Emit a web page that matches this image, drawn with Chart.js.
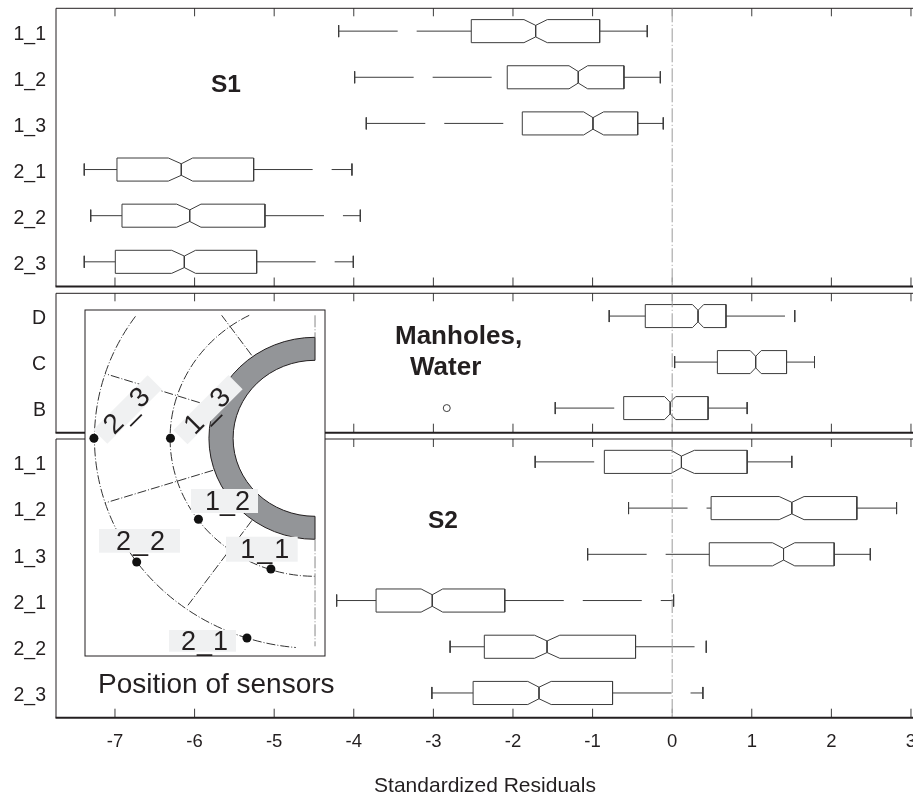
<!DOCTYPE html>
<html>
<head>
<meta charset="utf-8">
<title>Standardized Residuals</title>
<script src="https://cdn.jsdelivr.net/npm/chart.js@4/dist/chart.umd.min.js"></script>
<style>
    html, body { margin: 0; padding: 0; background: #fff; overflow: hidden; }
    #page { position: relative; width: 913px; height: 795px; overflow: hidden; background: #fff; }
    #page canvas { position: absolute; }
</style>
</head>
<body>
<div id="page">
    <canvas id="panelS1" width="930" height="288" style="left:0;top:0"></canvas>
    <canvas id="panelWater" width="930" height="145" style="left:0;top:290px"></canvas>
    <canvas id="panelS2" width="930" height="363" style="left:0;top:436px"></canvas>
    <canvas id="inset" width="262" height="392" style="left:84px;top:309px"></canvas>
</div>
<script>
// x axis
const xTicks = [-7, -6, -5, -4, -3, -2, -1, 0, 1, 2, 3];
const axisTitle = "Standardized Residuals";

// S1 panel
const s1Labels = ["1_1", "1_2", "1_3", "2_1", "2_2", "2_3"];
const s1Low = [-4.19, -3.989, -3.843, -7.386, -7.305, -7.386];
const s1Q1 = [-2.524, -2.072, -1.883, -6.975, -6.912, -6.996];
const s1NotchLow = [-1.862, -1.296, -1.112, -6.33, -6.225, -6.288];
const s1Median = [-1.715, -1.18, -0.995, -6.167, -6.061, -6.129];
const s1NotchHigh = [-1.569, -1.062, -0.861, -6.024, -5.92, -5.987];
const s1Q3 = [-0.911, -0.606, -0.433, -5.258, -5.116, -5.22];
const s1High = [-0.313, -0.149, -0.112, -4.023, -3.918, -4.006];

// Manholes, Water panel
const waterLabels = ["D", "C", "B"];
const waterLow = [-0.791, 0.031, -1.469];
const waterQ1 = [-0.338, 0.568, -0.609];
const waterNotchLow = [0.255, 0.98, -0.095];
const waterMedian = [0.325, 1.049, -0.025];
const waterNotchHigh = [0.396, 1.119, 0.045];
const waterQ3 = [0.676, 1.437, 0.451];
const waterHigh = [1.54, 1.788, 0.942];
const waterOutlierX = [-2.832];
const waterOutlierRow = [3];

// S2 panel
const s2Labels = ["1_1", "1_2", "1_3", "2_1", "2_2", "2_3"];
const s2Low = [-1.721, -0.548, -1.062, -4.215, -2.79, -3.019];
const s2Q1 = [-0.852, 0.489, 0.466, -3.72, -2.36, -2.501];
const s2NotchLow = [-0.015, 1.344, 1.26, -3.154, -1.73, -1.814];
const s2Median = [0.116, 1.503, 1.399, -3.014, -1.572, -1.673];
const s2NotchHigh = [0.279, 1.657, 1.54, -2.883, -1.412, -1.52];
const s2Q3 = [0.942, 2.32, 2.035, -2.103, -0.46, -0.749];
const s2High = [1.503, 2.819, 2.489, 0.018, 0.428, 0.386];

// sensor sketch, same units on both inset axes
const sensorNames = ["1_1", "1_2", "1_3", "2_1", "2_2", "2_3"];
const sensorX = [-42, -111, -137.6, -64.8, -169.8, -210.5];
const sensorY = [-130.7, -81, 0, -199.7, -123.7, 0];
const ringRadii = [78, 101];
const spokeStartX = [-60.3, -97, -97, -60];
const spokeStartY = [83, 31.5, -32, -82];
const spokeEndX = [-88.9, -200, -200, -121];
const spokeEndY = [123, 64.7, -64.7, -167];

const ink = "#231f20";
const lineColor = "#3c3c3c";
const zeroColor = "#9a9a9a";
const whiskerDash = [59, 19];
const zeroDash = [14, 2.5, 1, 2.5];
const fontName = "'Liberation Sans', Arial, sans-serif";

Chart.defaults.font.family = fontName;
Chart.defaults.color = ink;

function lineSet(points, color, dash) {
    return {
        data: points,
        showLine: true,
        borderColor: color || lineColor,
        borderWidth: 1,
        borderDash: dash || [],
        pointRadius: 0,
        tension: 0
    };
}

function boxDatasets(s) {
    const capH = 0.13, boxH = 0.25, waist = 0.125;
    const sets = [];
    s.labels.forEach(function (name, i) {
        const y = i + 1;
        sets.push(lineSet([{ x: s.low[i], y: y }, { x: s.q1[i], y: y }], lineColor, whiskerDash));
        sets.push(lineSet([{ x: s.q3[i], y: y }, { x: s.high[i], y: y }], lineColor, whiskerDash));
        sets.push(lineSet([{ x: s.low[i], y: y - capH }, { x: s.low[i], y: y + capH }]));
        sets.push(lineSet([{ x: s.high[i], y: y - capH }, { x: s.high[i], y: y + capH }]));
        sets.push(lineSet([
            { x: s.q1[i], y: y - boxH }, { x: s.notchLow[i], y: y - boxH },
            { x: s.median[i], y: y - waist }, { x: s.notchHigh[i], y: y - boxH },
            { x: s.q3[i], y: y - boxH }, { x: s.q3[i], y: y + boxH },
            { x: s.notchHigh[i], y: y + boxH }, { x: s.median[i], y: y + waist },
            { x: s.notchLow[i], y: y + boxH }, { x: s.q1[i], y: y + boxH },
            { x: s.q1[i], y: y - boxH }
        ]));
        sets.push(lineSet([{ x: s.median[i], y: y - waist }, { x: s.median[i], y: y + waist }]));
    });
    return sets;
}

// frame and inward ticks, the panels have ticks on top and bottom
const panelFrame = {
    id: "panelFrame",
    beforeDatasetsDraw(chart) {
        const a = chart.chartArea, ctx = chart.ctx, x = chart.scales.x;
        ctx.save();
        ctx.strokeStyle = ink;
        ctx.lineWidth = 1;
        xTicks.forEach(function (t) {
            const px = x.getPixelForValue(t);
            ctx.strokeStyle = t === 0 ? zeroColor : lineColor;
            ctx.beginPath();
            ctx.moveTo(px, a.top);
            ctx.lineTo(px, a.top + 8);
            ctx.moveTo(px, a.bottom);
            ctx.lineTo(px, a.bottom - 9);
            ctx.stroke();
        });
        ctx.strokeStyle = ink;
        ctx.beginPath();
        ctx.moveTo(a.left, a.bottom);
        ctx.lineTo(a.left, a.top);
        ctx.lineTo(a.right, a.top);
        ctx.stroke();
        ctx.lineWidth = 2;
        ctx.beginPath();
        ctx.moveTo(a.left - 0.5, a.bottom);
        ctx.lineTo(a.right, a.bottom);
        ctx.stroke();
        ctx.restore();
    },
    afterDraw(chart, args, opts) {
        const ctx = chart.ctx;
        ctx.save();
        ctx.fillStyle = ink;
        ctx.textBaseline = "middle";
        (opts.notes || []).forEach(function (n) {
            ctx.font = "bold " + n.size + "px " + fontName;
            ctx.fillText(n.text, n.left, n.top);
        });
        ctx.restore();
    }
};

function makePanel(id, s, notes, bottomPad, showAxis) {
    const n = s.labels.length;
    const sets = [lineSet([{ x: 0, y: 0.505 }, { x: 0, y: n + 0.535 }], zeroColor, zeroDash)]
        .concat(boxDatasets(s));
    if (s.outlierX) {
        sets.push({
            data: s.outlierX.map(function (v, i) { return { x: v, y: s.outlierRow[i] }; }),
            showLine: false,
            pointRadius: 3.5,
            pointBackgroundColor: "#fff",
            pointBorderColor: lineColor,
            pointBorderWidth: 1
        });
    }
    return new Chart(document.getElementById(id), {
        type: "scatter",
        data: { datasets: sets },
        plugins: [panelFrame],
        options: {
            responsive: false,
            animation: false,
            events: [],
            layout: { autoPadding: false, padding: { top: s.top, right: 16, bottom: bottomPad, left: 0 } },
            plugins: {
                legend: { display: false },
                tooltip: { enabled: false },
                panelFrame: { notes: notes }
            },
            scales: {
                x: {
                    type: "linear",
                    min: -7.741,
                    max: 3.038,
                    grid: { display: false, drawTicks: false },
                    border: { display: false },
                    afterBuildTicks: function (scale) {
                        scale.ticks = xTicks.map(function (v) { return { value: v }; });
                    },
                    afterFit: function (scale) {
                        scale.height = showAxis ? 81.3 : 0;
                        scale.paddingLeft = 0;
                        scale.paddingRight = 0;
                    },
                    ticks: {
                        display: showAxis,
                        autoSkip: false,
                        maxRotation: 0,
                        padding: 13,
                        color: ink,
                        font: { size: 18.5 }
                    },
                    title: {
                        display: showAxis,
                        text: axisTitle,
                        color: ink,
                        font: { size: 21 },
                        padding: 0
                    }
                },
                y: {
                    type: "linear",
                    reverse: true,
                    min: 0.505,
                    max: n + 0.535,
                    grid: { display: false, drawTicks: false },
                    border: { display: false },
                    afterBuildTicks: function (scale) {
                        scale.ticks = s.labels.map(function (l, i) { return { value: i + 1 }; });
                    },
                    afterFit: function (scale) {
                        scale.width = 56;
                        scale.paddingTop = 0;
                        scale.paddingBottom = 0;
                    },
                    ticks: {
                        padding: 10,
                        labelOffset: 3,
                        color: ink,
                        font: { size: 19.5 },
                        callback: function (v) { return s.labels[v - 1]; }
                    }
                }
            }
        }
    });
}

makePanel("panelS1", {
    labels: s1Labels, low: s1Low, q1: s1Q1, notchLow: s1NotchLow, median: s1Median,
    notchHigh: s1NotchHigh, q3: s1Q3, high: s1High, top: 8.3
}, [{ text: "S1", left: 211, top: 85, size: 24.5 }], 1.5, false);

makePanel("panelWater", {
    labels: waterLabels, low: waterLow, q1: waterQ1, notchLow: waterNotchLow, median: waterMedian,
    notchHigh: waterNotchHigh, q3: waterQ3, high: waterHigh,
    outlierX: waterOutlierX, outlierRow: waterOutlierRow, top: 3.3
}, [{ text: "Manholes,", left: 395, top: 47, size: 26 }, { text: "Water", left: 410, top: 78, size: 26 }], 2.3, false);

makePanel("panelS2", {
    labels: s2Labels, low: s2Low, q1: s2Q1, notchLow: s2NotchLow, median: s2Median,
    notchHigh: s2NotchHigh, q3: s2Q3, high: s2High, top: 3
}, [{ text: "S2", left: 428, top: 85, size: 24.5 }], 0, true);

// sketch inside the white box: pipe section, sensor rings, spokes, labels
const sketchLayer = {
    id: "sketchLayer",
    beforeDatasetsDraw(chart) {
        const ctx = chart.ctx, a = chart.chartArea, sx = chart.scales.x, sy = chart.scales.y;
        const cx = sx.getPixelForValue(0), cy = sy.getPixelForValue(0);
        const rx = function (r) { return sx.getPixelForValue(r) - cx; };
        const ry = function (r) { return sy.getPixelForValue(0) - sy.getPixelForValue(r); };
        const deg = Math.PI / 180;
        const dashDot = [9, 2, 1, 2];

        ctx.save();
        ctx.fillStyle = "#fff";
        ctx.strokeStyle = ink;
        ctx.lineWidth = 1;
        ctx.fillRect(a.left, a.top, a.width, a.height);
        ctx.strokeRect(a.left, a.top, a.width, a.height);

        // pipe wall
        ctx.beginPath();
        ctx.ellipse(cx, cy, rx(ringRadii[1]), ry(ringRadii[1]), 0, Math.PI / 2, 3 * Math.PI / 2);
        ctx.ellipse(cx, cy, rx(ringRadii[0]), ry(ringRadii[0]), 0, 3 * Math.PI / 2, Math.PI / 2, true);
        ctx.closePath();
        ctx.fillStyle = "#939598";
        ctx.fill();
        ctx.stroke();

        // sensor rings
        ctx.strokeStyle = "#333";
        ctx.setLineDash(dashDot);
        ctx.beginPath();
        ctx.ellipse(cx, cy, rx(138), ry(138), 0, -117 * deg, -270 * deg, true);
        ctx.stroke();
        ctx.beginPath();
        ctx.ellipse(cx, cy, rx(210), ry(210), 0, -144.5 * deg, -265 * deg, true);
        ctx.stroke();

        // spokes
        spokeStartX.forEach(function (v, i) {
            ctx.beginPath();
            ctx.moveTo(sx.getPixelForValue(v), sy.getPixelForValue(spokeStartY[i]));
            ctx.lineTo(sx.getPixelForValue(spokeEndX[i]), sy.getPixelForValue(spokeEndY[i]));
            ctx.stroke();
        });

        // centre line
        ctx.strokeStyle = "#888";
        ctx.setLineDash([12, 2, 1, 2]);
        ctx.beginPath();
        ctx.moveTo(cx, sy.getPixelForValue(123));
        ctx.lineTo(cx, sy.getPixelForValue(ringRadii[1]));
        ctx.moveTo(cx, sy.getPixelForValue(-ringRadii[1]));
        ctx.lineTo(cx, sy.getPixelForValue(-208));
        ctx.stroke();
        ctx.setLineDash([]);

        // sensor name plates, box coordinates relative to this canvas
        const plates = [
            { i: 0, left: 142, top: 227.7, w: 71.7, h: 25, dx: 4, size: 27, spacing: "2px" },
            { i: 1, left: 107, top: 180, w: 67, h: 24, dx: 3, size: 27, spacing: "0px" },
            { i: 2, cx: 124, cy: 100.7, w: 78, h: 20, rot: -45, dx: 0, size: 28, spacing: "3px" },
            { i: 3, left: 85, top: 321, w: 67, h: 21.7, dx: 2.5, size: 27, spacing: "1px" },
            { i: 4, left: 15, top: 220, w: 81, h: 23.7, dx: 2, size: 27, spacing: "2px" },
            { i: 5, cx: 43.5, cy: 100.5, w: 77, h: 20, rot: -45, dx: 0, size: 28, spacing: "3px" }
        ];
        ctx.textAlign = "center";
        ctx.textBaseline = "alphabetic";
        plates.forEach(function (p) {
            const mx = p.rot ? p.cx : p.left + p.w / 2;
            const my = p.rot ? p.cy : p.top + p.h / 2;
            ctx.save();
            ctx.translate(mx, my);
            if (p.rot) ctx.rotate(p.rot * deg);
            ctx.fillStyle = "#f0f1f2";
            ctx.fillRect(-p.w / 2, -p.h / 2, p.w, p.h);
            ctx.fillStyle = ink;
            ctx.font = p.size + "px " + fontName;
            ctx.letterSpacing = p.spacing;
            ctx.fillText(sensorNames[p.i], p.dx, 9);
            ctx.restore();
        });

        ctx.fillStyle = ink;
        ctx.textAlign = "left";
        ctx.font = "28px " + fontName;
        ctx.fillText("Position of sensors", 14, 384);
        ctx.restore();
    }
};

new Chart(document.getElementById("inset"), {
    type: "scatter",
    data: {
        datasets: [{
            data: sensorX.map(function (v, i) { return { x: v, y: sensorY[i] }; }),
            showLine: false,
            pointRadius: 4.5,
            pointBackgroundColor: "#111",
            pointBorderColor: "#111",
            pointBorderWidth: 0
        }]
    },
    plugins: [sketchLayer],
    options: {
        responsive: false,
        animation: false,
        events: [],
        layout: { autoPadding: false, padding: { top: 1, left: 1, right: 21, bottom: 45 } },
        plugins: { legend: { display: false }, tooltip: { enabled: false } },
        scales: {
            x: { display: false, min: -219, max: 9.5 },
            y: { display: false, min: -217.7, max: 128.3 }
        }
    }
});
</script>
</body>
</html>
